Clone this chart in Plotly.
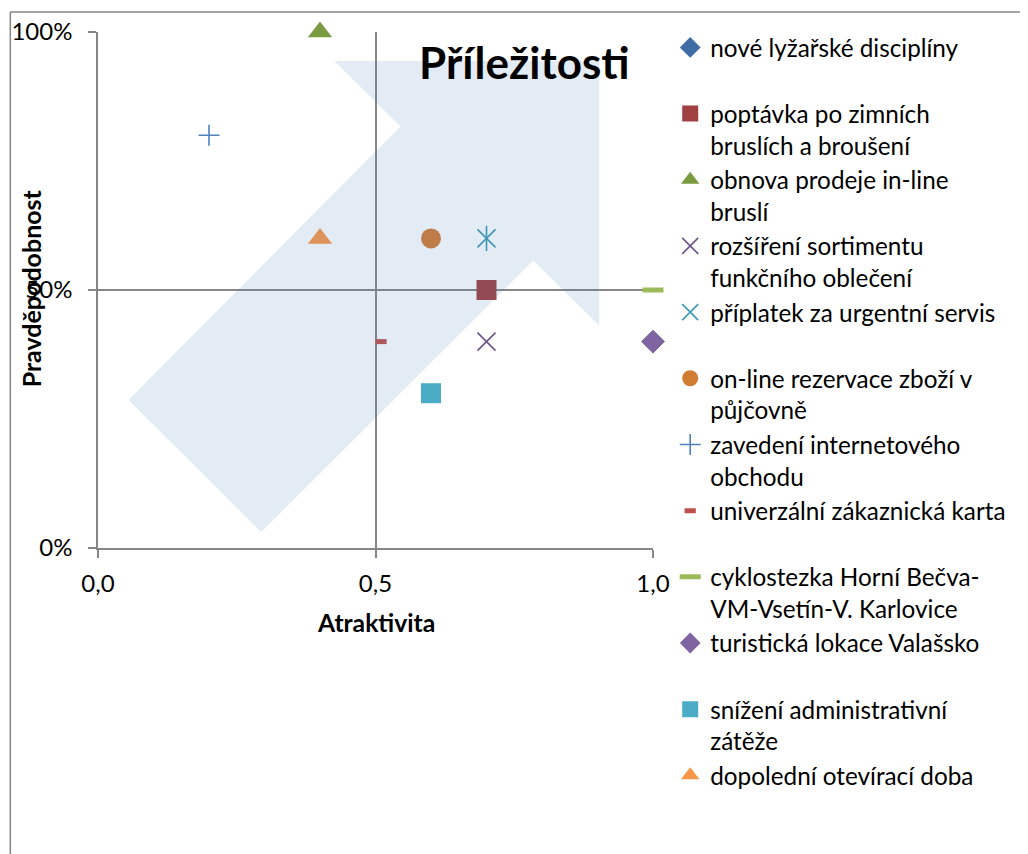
import plotly.graph_objects as go

# ---- data ----
series_names = [
    "nové lyžařské disciplíny<br> ",
    "poptávka po zimních<br>bruslích a broušení",
    "obnova prodeje in-line<br>bruslí",
    "rozšíření sortimentu<br>funkčního oblečení",
    "příplatek za urgentní servis<br> ",
    "on-line rezervace zboží v<br>půjčovně",
    "zavedení internetového<br>obchodu",
    "univerzální zákaznická karta<br> ",
    "cyklostezka Horní Bečva-<br>VM-Vsetín-V. Karlovice",
    "turistická lokace Valašsko<br> ",
    "snížení administrativní<br>zátěže",
    "dopolední otevírací doba",
]
atraktivita = [1.0, 0.7, 0.4, 0.7, 0.7, 0.6, 0.2, 0.51, 1.0, 1.0, 0.6, 0.4]
pravdepodobnost = [0.4, 0.5, 1.0, 0.4, 0.6, 0.6, 0.8, 0.4, 0.5, 0.4, 0.3, 0.6]

x_ticks = [0, 0.5, 1.0]
y_ticks = [0, 0.5, 1.0]

# ---- styles ----
symbols = ["diamond", "square", "triangle-up", "x-thin-open", "x-thin-open", "circle",
           "cross-thin-open", "line-ew-open", "line-ew-open", "diamond", "square", "triangle-up"]
colors = ["#3F6CA5", "#A04040", "#7A9A40", "#6B5489", "#3C9AB3", "#D27B33",
          "#4F81BD", "#C0504D", "#9BBB59", "#8064A2", "#4BACC6", "#F79646"]
sizes = [18, 20, 21, 18, 18, 20, 15, 8, 15, 18, 20, 21]
line_widths = [0, 0, 0, 1.6, 1.6, 0, 1.6, 5, 5, 0, 0, 0]

FONT = "Lato"
GRAY = "#868686"

fig = go.Figure()
for i, name in enumerate(series_names):
    open_sym = symbols[i].endswith("-open")
    fig.add_trace(go.Scatter(
        x=[atraktivita[i]], y=[pravdepodobnost[i]], mode="markers", name=name,
        cliponaxis=False,
        marker=dict(symbol=symbols[i], size=sizes[i], color=colors[i],
                    line=dict(color=colors[i], width=line_widths[i] if open_sym else 0)),
    ))
    if i == 4:
        # vertical stroke of the asterisk marker
        fig.add_trace(go.Scatter(
            x=[atraktivita[i]], y=[pravdepodobnost[i]], mode="markers", showlegend=False,
            cliponaxis=False, hoverinfo="skip",
            marker=dict(symbol="line-ns-open", size=sizes[i], color=colors[i],
                        line=dict(color=colors[i], width=1.6)),
        ))

# decorative arrow (plot-area fractions)
arrow = [(0.426, 0.944), (0.903, 0.944), (0.903, 0.431), (0.784, 0.557),
         (0.294, 0.031), (0.055, 0.287), (0.545, 0.817)]
path = "M " + " L ".join(f"{a},{b}" for a, b in arrow) + " Z"
shapes = [
    dict(type="path", path=path, xref="x", yref="y", layer="above",
         fillcolor="rgba(79,129,189,0.16)", line=dict(width=0)),
    # outer chart frame (left and top edges)
    dict(type="line", xref="paper", yref="paper", x0=-0.158, x1=-0.158, y0=-0.62, y1=1.0388,
         line=dict(color=GRAY, width=1.5)),
    dict(type="line", xref="paper", yref="paper", x0=-0.158, x1=1.7, y0=1.0388, y1=1.0388,
         line=dict(color=GRAY, width=1.5)),
]

annotations = [
    dict(text="<b>Příležitosti</b>", xref="paper", yref="paper", x=0.769, y=0.941,
         xanchor="center", yanchor="middle", showarrow=False,
         font=dict(family=FONT, size=44, color="black")),
    dict(text="<b>Atraktivita</b>", xref="paper", yref="paper", x=0.5, y=-0.1447,
         xanchor="center", yanchor="middle", showarrow=False,
         font=dict(family=FONT, size=24.7, color="black")),
    dict(text="<b>Pravděpodobnost</b>", xref="paper", yref="paper", x=-0.12, y=0.504,
         xanchor="center", yanchor="middle", textangle=-90, showarrow=False,
         font=dict(family=FONT, size=25, color="black")),
]

fig.update_layout(
    width=1028, height=854,
    margin=dict(l=90, r=383, t=24, b=314, autoexpand=False),
    paper_bgcolor="white", plot_bgcolor="white",
    separators=", ",
    font=dict(family=FONT, size=24, color="black"),
    shapes=shapes, annotations=annotations,
    legend=dict(x=1.031, y=0.980, xref="paper", yref="container",
                xanchor="left", yanchor="top", valign="top", maxheight=840,
                font=dict(family=FONT, size=24.3, color="black"),
                bgcolor="rgba(0,0,0,0)", borderwidth=0, tracegroupgap=0),
    xaxis=dict(range=[0, 1], tickvals=x_ticks, tickformat=".1f",
               showgrid=True, gridcolor=GRAY, gridwidth=1.6, zeroline=False,
               showline=True, linecolor=GRAY, linewidth=1.6,
               ticks="outside", ticklen=8, tickcolor=GRAY, tickwidth=1.6,
               ticklabelstandoff=5,
               tickfont=dict(family=FONT, size=24, color="black")),
    yaxis=dict(range=[0, 1], tickvals=y_ticks, tickformat=".0%",
               showgrid=True, gridcolor=GRAY, gridwidth=1.6, zeroline=False,
               showline=True, linecolor=GRAY, linewidth=1.6,
               ticks="outside", ticklen=8, tickcolor=GRAY, tickwidth=1.6,
               ticklabelstandoff=11,
               tickfont=dict(family=FONT, size=24, color="black")),
)

fig.write_html("out.html")
